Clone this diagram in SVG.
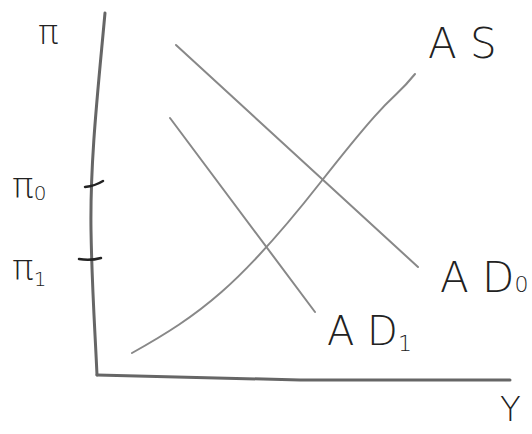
<svg xmlns="http://www.w3.org/2000/svg" width="532" height="434" viewBox="0 0 532 434">
<style>
.ax{fill:none;stroke:#666;stroke-width:3;stroke-linecap:round}
.cv{fill:none;stroke:#888;stroke-width:2;stroke-linecap:round}
.tk{fill:none;stroke:#222;stroke-width:2.5;stroke-linecap:round}
.lb{font-family:"DejaVu Sans","Liberation Sans",sans-serif;fill:#222;font-weight:300}
</style>
<rect width="532" height="434" fill="#fff"/>
<g id="axes">
<path class="ax" d="M105,13 C98,90 90,160 91,230 C92,290 95,330 97,375"/>
<path class="ax" d="M97,375 L300,380 L510,380"/>
</g>
<g id="ticks">
<path class="tk" d="M85,187 Q95,186 103,181"/>
<path class="tk" d="M79,259 Q90,261 101,258"/>
</g>
<g id="connectors">
<path id="AS" class="cv" d="M132,353 C200,315 240,285 320,183 S390,105 415,74"/>
<path id="AD0" class="cv" d="M176,45 L418,267"/>
<path id="AD1" class="cv" d="M170,118 L315,312"/>
</g>
<g id="labels">
<text class="lb" x="38" y="44" font-size="34">π</text>
<text class="lb" x="12" y="198" font-size="36">π<tspan font-size="20" dy="2">0</tspan></text>
<text class="lb" x="12" y="280" font-size="36">π<tspan font-size="20" dy="6">1</tspan></text>
<text class="lb" x="428" y="58" font-size="42">A S</text>
<text class="lb" x="440" y="292" font-size="42">A D<tspan font-size="22" dy="0">0</tspan></text>
<text class="lb" x="327" y="345" font-size="40">A D<tspan font-size="22" dy="6">1</tspan></text>
<text class="lb" x="500" y="421" font-size="34">Y</text>
</g>
</svg>
